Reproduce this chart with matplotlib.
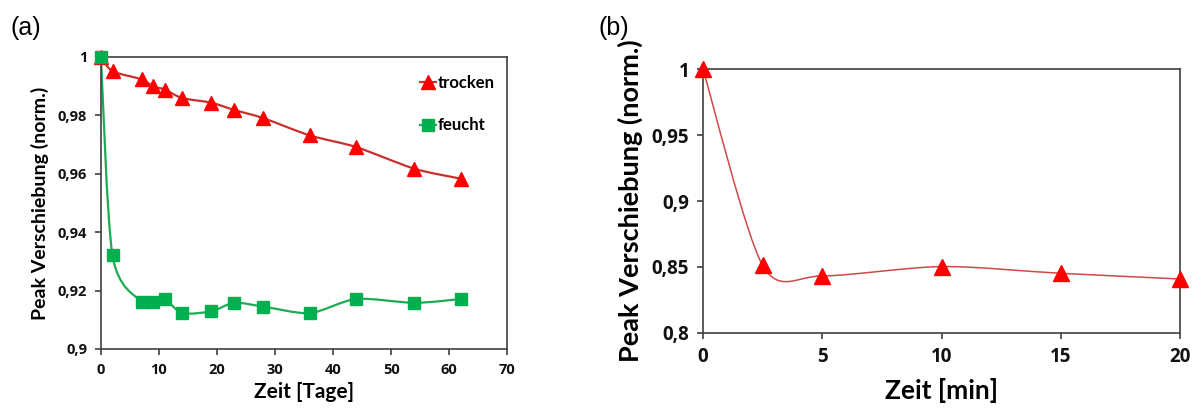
import numpy as np
import matplotlib
matplotlib.use("Agg")
import matplotlib.pyplot as plt
from matplotlib.path import Path
from matplotlib.patches import PathPatch
from matplotlib.lines import Line2D
from matplotlib.font_manager import FontProperties

# (a) Lagerung in Tagen
tage = [0, 2, 7, 9, 11, 14, 19, 23, 28, 36, 44, 54, 62]
trocken = [1.0, 0.9951, 0.9923, 0.9899, 0.9888, 0.9859, 0.9843, 0.9818,
           0.9790, 0.9731, 0.9691, 0.9617, 0.9583]
feucht = [1.0, 0.9320, 0.9162, 0.9162, 0.9171, 0.9123, 0.9129, 0.9158,
          0.9145, 0.9123, 0.9171, 0.9158, 0.9171]
xticks_a = [0, 10, 20, 30, 40, 50, 60, 70]
yticks_a = [0.9, 0.92, 0.94, 0.96, 0.98, 1.0]

# (b) Zeit in Minuten
minuten = [0, 2.5, 5, 10, 15, 20]
werte_b = [1.0, 0.8512, 0.8432, 0.8503, 0.8452, 0.8409]
xticks_b = [0, 5, 10, 15, 20]
yticks_b = [0.8, 0.85, 0.9, 0.95, 1.0]

FONT = ['Lato', 'DejaVu Sans']
TICKFONT = ['Open Sans', 'DejaVu Sans']
plt.rcParams['font.family'] = FONT

ROT = '#FF0000'
ROT_LINIE = '#C8302C'
GRUEN = '#00B050'
GRUEN_LINIE = '#1FAA55'


# Excel-artige geglaettete Linie (Catmull-Rom als Bezier)
def smooth_path(x, y, f=0.14):
    p = np.column_stack([x, y]).astype(float)
    verts = [p[0]]
    codes = [Path.MOVETO]
    n = len(p)
    for i in range(n - 1):
        p0 = p[i - 1] if i > 0 else p[i]
        p1 = p[i]
        p2 = p[i + 1]
        p3 = p[i + 2] if i + 2 < n else p[i + 1]
        c1 = p1 + (p2 - p0) * f
        c2 = p2 - (p3 - p1) * f
        verts += [c1, c2, p2]
        codes += [Path.CURVE4] * 3
    return Path(verts, codes)


def komma(v):
    return ('%g' % round(v, 4)).replace('.', ',')


def style_axes(ax, xt, yt):
    for s in ax.spines.values():
        s.set_color('#404040')
        s.set_linewidth(1.2)
    ax.tick_params(direction='out', length=4, width=1.2, color='#404040',
                   labelcolor='#111111', pad=6)
    ax.set_xticks(xt, [komma(v) for v in xt])
    ax.set_yticks(yt, [komma(v) for v in yt])


def fett(ax, size):
    fp = FontProperties(family=TICKFONT, weight='bold', size=size)
    for lab in ax.get_xticklabels() + ax.get_yticklabels():
        lab.set_fontproperties(fp)


fig = plt.figure(figsize=(11.97, 4.12), dpi=100)

# ---- (a)
ax1 = fig.add_axes([0.0843, 0.153, 0.3395, 0.709])
ax1.add_patch(PathPatch(smooth_path(tage, trocken), fill=False,
                        edgecolor=ROT_LINIE, lw=1.6))
ax1.add_patch(PathPatch(smooth_path(tage, feucht), fill=False,
                        edgecolor=GRUEN_LINIE, lw=1.6))
ax1.plot(tage, trocken, ls='none', marker='^', ms=10, color=ROT,
         clip_on=False, zorder=5)
ax1.plot(tage, feucht, ls='none', marker='s', ms=8, color=GRUEN,
         clip_on=False, zorder=5)
ax1.set_xlim(0, 70)
ax1.set_ylim(0.9, 1.0)
style_axes(ax1, xticks_a, yticks_a)
ax1.set_xlabel('Zeit [Tage]', fontsize=15, fontweight='bold', labelpad=4)
ax1.set_ylabel('Peak Verschiebung (norm.)', fontsize=14, fontweight='bold',
               labelpad=6)
handles = [Line2D([], [], color=ROT_LINIE, lw=1.6, marker='^', ms=10,
                  mfc=ROT, mec=ROT),
           Line2D([], [], color=GRUEN_LINIE, lw=1.6, marker='s', ms=8,
                  mfc=GRUEN, mec=GRUEN)]
ax1.legend(handles, ['trocken', 'feucht'], loc='upper right',
           bbox_to_anchor=(1.005, 0.99), frameon=False,
           handlelength=1.0, handletextpad=0.05, labelspacing=1.6,
           prop={'size': 12, 'weight': 'bold'})

# ---- (b)
ax2 = fig.add_axes([0.5873, 0.192, 0.3985, 0.640])
ax2.add_patch(PathPatch(smooth_path(minuten, werte_b), fill=False,
                        edgecolor='#D04848', lw=1.1))
ax2.plot(minuten, werte_b, ls='none', marker='^', ms=12, color=ROT,
         clip_on=False, zorder=5)
ax2.set_xlim(0, 20)
ax2.set_ylim(0.8, 1.0)
style_axes(ax2, xticks_b, yticks_b)
ax2.set_xlabel('Zeit [min]', fontsize=19, fontweight='bold', labelpad=8)
ax2.set_ylabel('Peak Verschiebung (norm.)', fontsize=19.5, fontweight='bold',
               labelpad=6)

fig.text(0.009, 0.915, '(a)', fontsize=18, family='Liberation Sans')
fig.text(0.500, 0.915, '(b)', fontsize=18, family='Liberation Sans')

fig.canvas.draw()
fett(ax1, 10.5)
fett(ax2, 13.5)

fig.savefig('out.png', dpi=100)
